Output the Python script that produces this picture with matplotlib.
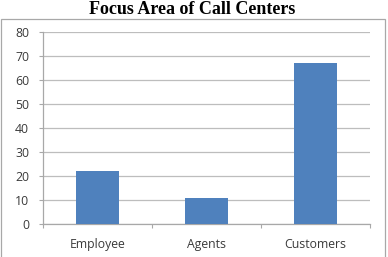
"""Focus Area of Call Centers - simple column chart."""

import matplotlib

matplotlib.use("Agg")
import matplotlib.pyplot as plt
from matplotlib.patches import Rectangle

categories: list[str] = ["Employee", "Agents", "Customers"]
values: list[float] = [22, 11, 67]
y_ticks: list[int] = [0, 10, 20, 30, 40, 50, 60, 70, 80]

W, H = 388, 257
fig = plt.figure(figsize=(W / 100, H / 100), dpi=100)

# outer chart frame (excel style)
fig.patches.append(
    Rectangle((0.5 / W, -0.05), 384.5 / W, 1.05 - 19 / H, transform=fig.transFigure,
              facecolor="none", edgecolor="#a8a8a8", linewidth=0.9)
)

ax = fig.add_axes([43 / W, 33 / H, 327 / W, 192 / H])
x = list(range(len(categories)))
ax.bar(x, values, width=0.4, color="#4F81BD", zorder=3)

ax.set_xlim(-0.5, len(categories) - 0.5)
ax.set_ylim(0, 80)
ax.set_yticks(y_ticks)
ax.set_yticklabels([str(t) for t in y_ticks], fontsize=8.8, family="Open Sans", color="#3a3a3a")
ax.yaxis.grid(True, color="#bdbdbd", linewidth=0.9, zorder=0)

# category boundary ticks, labels in the middle
ax.set_xticks([i - 0.5 for i in range(len(categories) + 1)])
ax.set_xticklabels([])
ax.set_xticks(x, minor=True)
ax.set_xticklabels(categories, minor=True, fontsize=8.8, family="Open Sans", color="#3a3a3a")
ax.tick_params(axis="x", which="major", length=3, color="#a8a8a8", width=0.8)
ax.tick_params(axis="x", which="minor", length=0, pad=10)
ax.tick_params(axis="y", length=3, color="#a8a8a8", width=0.8, pad=7)

for side in ["top", "right"]:
    ax.spines[side].set_visible(False)
for side in ["left", "bottom"]:
    ax.spines[side].set_color("#a8a8a8")
    ax.spines[side].set_linewidth(0.9)

fig.text(0.5 * (0 + 385) / W, 1 - 10 / H, "Focus Area of Call Centers", ha="center", va="center",
         family="Liberation Serif", fontweight="bold", fontsize=13)

fig.savefig("out.png", dpi=100)
